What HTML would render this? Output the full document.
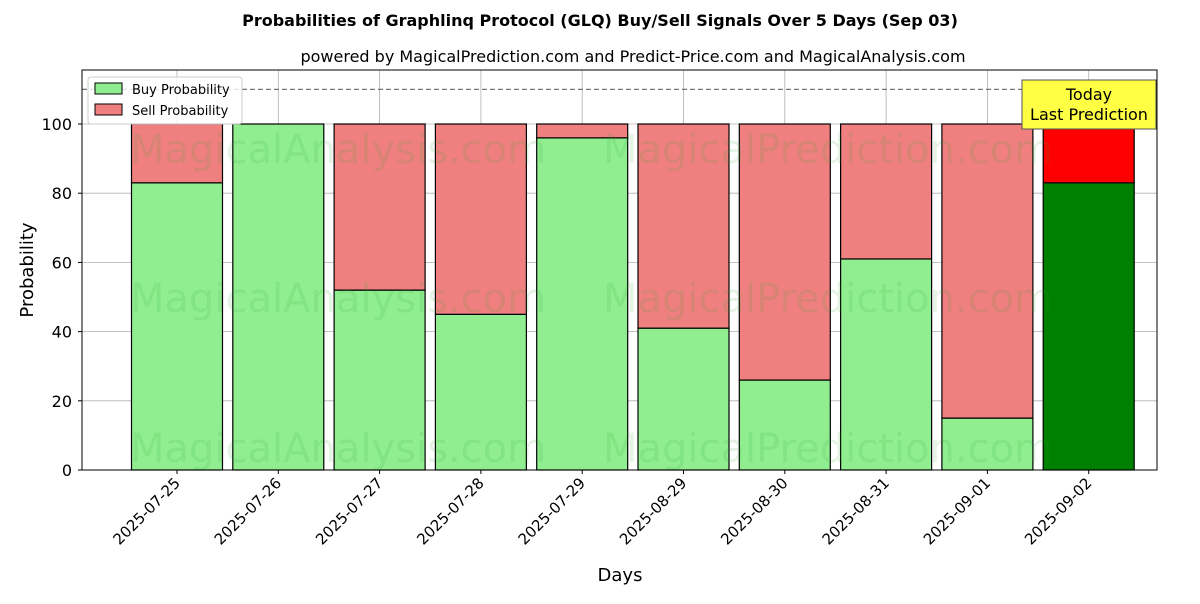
<!DOCTYPE html>
<html><head><meta charset="utf-8"><style>
body{margin:0;background:#fff;font-family:"DejaVu Sans","Liberation Sans",sans-serif;}
svg text{font-family:"DejaVu Sans","Liberation Sans",sans-serif;}
</style></head><body>
<svg id="chart" width="1200" height="600" xmlns="http://www.w3.org/2000/svg">
<rect width="1200" height="600" fill="#fff"/>
<text x="600" y="26" text-anchor="middle" font-size="16" font-weight="bold">Probabilities of Graphlinq Protocol (GLQ) Buy/Sell Signals Over 5 Days (Sep 03)</text>
<text x="633" y="62" text-anchor="middle" font-size="16">powered by MagicalPrediction.com and Predict-Price.com and MagicalAnalysis.com</text>
<g id="grid"></g>
<g id="bars"></g>
<g id="wm" fill="#2ca02c" fill-opacity="0.13" font-size="40">
<text x="130" y="163">MagicalAnalysis.com</text>
<text x="603" y="163">MagicalPrediction.com</text>
<text x="130" y="312">MagicalAnalysis.com</text>
<text x="603" y="312">MagicalPrediction.com</text>
<text x="130" y="462">MagicalAnalysis.com</text>
<text x="603" y="462">MagicalPrediction.com</text>
</g>
<line x1="82" x2="1157" y1="89.4" y2="89.4" stroke="#777" stroke-dasharray="5,3" stroke-width="1.2"/>
<rect x="82" y="70" width="1075" height="400" fill="none" stroke="#000" stroke-width="1"/>
<g id="ticks"></g>
<text x="33" y="270" text-anchor="middle" font-size="18" transform="rotate(-90 33 270)">Probability</text>
<text x="620" y="581" text-anchor="middle" font-size="18">Days</text>
<g>
<rect x="1022" y="80" width="134" height="49" fill="#ffff44" stroke="#555" stroke-width="1"/>
<text x="1089" y="100" text-anchor="middle" font-size="16">Today</text>
<text x="1089" y="120" text-anchor="middle" font-size="16">Last Prediction</text>
</g>
<g>
<rect x="88" y="77" width="154" height="47" fill="#fff" fill-opacity="0.8" stroke="#ccc" rx="3"/>
<rect x="95" y="83" width="27" height="11" fill="#90ee90" stroke="#000"/>
<text x="132" y="94" font-size="13">Buy Probability</text>
<rect x="95" y="104" width="27" height="11" fill="#f08080" stroke="#000"/>
<text x="132" y="115" font-size="13">Sell Probability</text>
</g>
</svg>
<script>
const categories=["2025-07-25","2025-07-26","2025-07-27","2025-07-28","2025-07-29","2025-08-29","2025-08-30","2025-08-31","2025-09-01","2025-09-02"];
const buyValues=[83,100,52,45,96,41,26,61,15,83];
const sellValues=[17,0,48,55,4,59,74,39,85,17];
const yTicks=[0,20,40,60,80,100];
const NS="http://www.w3.org/2000/svg";
const xs=i=>177+i*101.3;
const ys=v=>470-v*3.46;
const bw=91;
function mk(tag,attrs,parent){const e=document.createElementNS(NS,tag);for(const k in attrs)e.setAttribute(k,attrs[k]);parent.appendChild(e);return e;}
const grid=document.getElementById('grid'),bars=document.getElementById('bars'),ticks=document.getElementById('ticks');
yTicks.forEach(t=>{
 const l=mk('line',{x1:82,x2:1157,y1:ys(t),y2:ys(t),stroke:'#b0b0b0','stroke-width':0.8},grid);
 
 
 const tk=mk('line',{x1:78,x2:82,y1:ys(t),y2:ys(t),stroke:'#000'},ticks);
 
 
 const tx=mk('text',{x:72,y:ys(t)+6,'text-anchor':'end','font-size':16},ticks);
 tx.textContent=t;
 
 
});
categories.forEach((c,i)=>{
 const x=xs(i);
 const g=mk('line',{x1:x,x2:x,y1:70,y2:470,stroke:'#b0b0b0','stroke-width':0.8},grid);
 
 
 const last=i===categories.length-1;
 const b=mk('rect',{x:x-bw/2,y:ys(buyValues[i]),width:bw,height:ys(0)-ys(buyValues[i]),fill:last?'#008000':'#90ee90',stroke:'#000','stroke-width':1.2},bars);
 
 
 const s=mk('rect',{x:x-bw/2,y:ys(buyValues[i]+sellValues[i]),width:bw,height:ys(buyValues[i])-ys(buyValues[i]+sellValues[i]),fill:last?'#ff0000':'#f08080',stroke:'#000','stroke-width':1.2},bars);
 
 
 const tk=mk('line',{x1:x,x2:x,y1:470,y2:474,stroke:'#000'},ticks);
 
 
 const tx=mk('text',{x:x+4,y:484,'text-anchor':'end','font-size':15,transform:`rotate(-45 ${x+4} 484)`},ticks);
 tx.textContent=c;
 
 
});
</script>
</body></html>
